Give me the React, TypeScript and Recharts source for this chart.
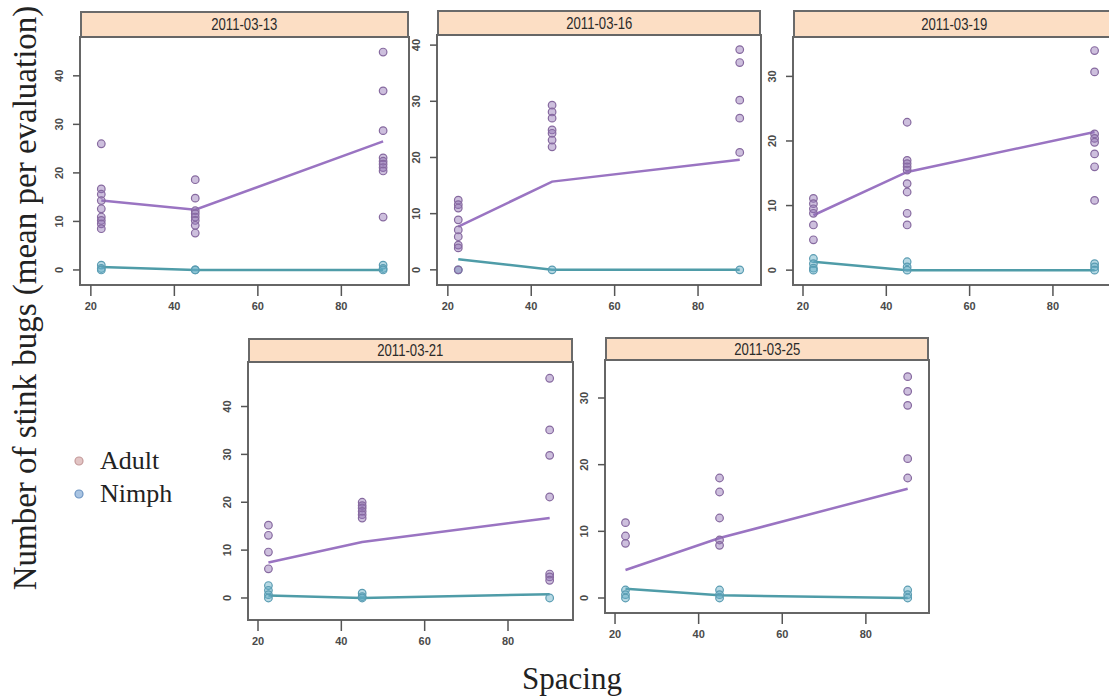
import React from 'react';
import { ComposedChart, Scatter, Line, XAxis, YAxis, ReferenceArea } from 'recharts';

// spacing levels (x) used in every panel
const spacing = [22.5, 45, 90];
const xTicks = [20, 40, 60, 80];

// observed counts, one sub-array per spacing level
const adult0313 = [
  [26, 16.7, 15.6, 14.3, 12.6, 10.9, 10.2, 9.5, 8.5],
  [18.6, 14.8, 12.2, 11.6, 10.9, 10.2, 9.2, 7.6],
  [44.9, 36.9, 28.7, 23.1, 22.4, 21.8, 21.1, 20.4, 10.9],
];
const nymph0313 = [[1, 0.3, 0], [0, 0], [1, 0.3, 0]];
const adultLine0313 = [14.3, 12.4, 26.5];
const nymphLine0313 = [0.6, 0, 0];

const adult0316 = [
  [12.4, 11.6, 11, 8.9, 7.1, 5.9, 4.4, 3.9, 0],
  [29.3, 28.1, 27, 24.9, 24.3, 23.1, 21.9],
  [39.2, 36.9, 30.2, 27, 20.9],
];
const nymph0316 = [[0], [0], [0]];
const adultLine0316 = [7.7, 15.7, 19.6];
const nymphLine0316 = [1.9, 0, 0];

const adult0319 = [
  [11.1, 10.3, 9.5, 8.8, 7, 4.7],
  [22.9, 17, 16.5, 16, 15.5, 13.4, 12.1, 8.8, 7],
  [34, 30.7, 21.1, 20.4, 19.8, 18, 16, 10.8],
];
const nymph0319 = [[1.8, 1, 0.3, 0], [1.3, 0.5, 0], [1, 0.5, 0]];
const adultLine0319 = [8.5, 15.2, 21.4];
const nymphLine0319 = [1.3, 0, 0];

const adult0321 = [
  [15.2, 13.1, 9.6, 6.1],
  [20, 19.3, 18.8, 18.1, 17.4, 16.7],
  [45.9, 35.1, 29.8, 21.1, 5, 4.4, 3.7],
];
const nymph0321 = [[2.6, 1.6, 0.7, 0], [1, 0.3, 0], [0]];
const adultLine0321 = [7.4, 11.7, 16.7];
const nymphLine0321 = [0.5, 0, 0.8];

const adult0325 = [
  [11.3, 9.3, 8.2],
  [18, 15.9, 12, 8.7, 7.9],
  [33.2, 31, 28.9, 20.9, 18],
];
const nymph0325 = [[1.2, 0.5, 0], [1.2, 0.5, 0], [1.2, 0.5, 0]];
const adultLine0325 = [4.2, 9, 16.4];
const nymphLine0325 = [1.4, 0.4, 0];

const toPoints = (groups: number[][]) =>
  groups.flatMap((vals, i) => vals.map((y) => ({ x: spacing[i], y })));
const toLine = (vals: number[]) => vals.map((y, i) => ({ x: spacing[i], y }));

const ADULT_FILL = 'rgba(145,112,180,0.45)';
const ADULT_STROKE = '#86699f';
const NYMPH_FILL = 'rgba(95,170,195,0.45)';
const NYMPH_STROKE = '#5a9cb2';
const ADULT_LINE = '#9a74c2';
const NYMPH_LINE = '#4f9ca8';
const TICK_FONT = 'Liberation Sans Narrow, Liberation Sans, Arial';

interface Box {
  left: number;
  top: number;
  width: number;
  height: number;
}

interface PanelProps {
  title: string;
  box: Box;
  stripTop: number;
  xDomain: [number, number];
  yDomain: [number, number];
  yTicks: number[];
  adult: number[][];
  nymph: number[][];
  adultLine: number[];
  nymphLine: number[];
}

const YTick = (props: any) => {
  const { x, y, payload } = props;
  return (
    <text
      x={x - 4}
      y={y}
      transform={`rotate(-90 ${x - 4} ${y})`}
      textAnchor="middle"
      fontSize={11}
      fontWeight={600}
      fill="#4a4a4a"
      fontFamily={TICK_FONT}
    >
      {payload.value}
    </text>
  );
};

const dot = (fill: string, stroke: string) => (p: any) =>
  <circle cx={p.cx} cy={p.cy} r={3.8} fill={fill} stroke={stroke} strokeWidth={1.2} />;

function Panel({ title, box, stripTop, xDomain, yDomain, yTicks, adult, nymph, adultLine, nymphLine }: PanelProps) {
  const axisW = 40;
  const pad = 2;
  return (
    <>
      <div
        style={{
          position: 'absolute',
          left: box.left,
          top: stripTop,
          width: box.width,
          height: box.top - stripTop + 1,
          boxSizing: 'border-box',
          border: '2px solid #6a6a6a',
          background: '#fcdec4',
          textAlign: 'center',
          fontFamily: TICK_FONT,
          fontSize: 16,
          color: '#2a2a2a',
          lineHeight: `${box.top - stripTop - 2}px`,
        }}
      >
        <span style={{ display: 'inline-block', transform: 'scaleX(0.82)' }}>{title}</span>
      </div>
      <div style={{ position: 'absolute', left: box.left - axisW, top: box.top - pad }}>
        <ComposedChart
          width={box.width + axisW + pad}
          height={box.height + 40 + pad}
          margin={{ top: pad, right: pad, left: 0, bottom: 0 }}
        >
          <XAxis
            type="number"
            dataKey="x"
            domain={xDomain}
            ticks={xTicks}
            allowDataOverflow
            axisLine={false}
            tickLine={{ stroke: '#555', strokeWidth: 1.5 }}
            tickSize={11}
            tickMargin={6}
            height={40}
            tick={{ fontSize: 11, fill: '#4a4a4a', fontWeight: 600, fontFamily: TICK_FONT }}
          />
          <YAxis
            type="number"
            dataKey="y"
            domain={yDomain}
            ticks={yTicks}
            allowDataOverflow
            axisLine={false}
            tickLine={{ stroke: '#555', strokeWidth: 1.5 }}
            tickSize={7}
            tickMargin={6}
            width={axisW}
            tick={<YTick />}
          />
          <ReferenceArea
            x1={xDomain[0]}
            x2={xDomain[1]}
            y1={yDomain[0]}
            y2={yDomain[1]}
            fill="none"
            stroke="#666"
            strokeWidth={2}
            fillOpacity={0}
            ifOverflow="visible"
          />
          <Scatter data={toPoints(nymph)} shape={dot(NYMPH_FILL, NYMPH_STROKE)} isAnimationActive={false} />
          <Scatter data={toPoints(adult)} shape={dot(ADULT_FILL, ADULT_STROKE)} isAnimationActive={false} />
          <Line
            data={toLine(adultLine)}
            dataKey="y"
            type="linear"
            stroke={ADULT_LINE}
            strokeWidth={2.5}
            dot={false}
            isAnimationActive={false}
          />
          <Line
            data={toLine(nymphLine)}
            dataKey="y"
            type="linear"
            stroke={NYMPH_LINE}
            strokeWidth={2.5}
            dot={false}
            isAnimationActive={false}
          />
        </ComposedChart>
      </div>
    </>
  );
}

export default function App() {
  const serif = 'Liberation Serif, Times New Roman, serif';
  return (
    <div style={{ position: 'absolute', left: 0, top: 0, width: 1109, height: 699, background: '#fff', overflow: 'hidden' }}>
      <svg width={1109} height={699} style={{ position: 'absolute', left: 0, top: 0 }}>
        <text transform="translate(36,298) rotate(-90)" textAnchor="middle" fontSize={33} fontFamily={serif} fill="#222">
          Number of stink bugs (mean per evaluation)
        </text>
        <text x={572} y={689} textAnchor="middle" fontSize={31} fontFamily={serif} fill="#222">
          Spacing
        </text>
        <circle cx={79} cy={461} r={4} fill="#e2c4c4" stroke="#c49a9a" strokeWidth={1.2} />
        <text x={100} y={469} fontSize={26} fontFamily={serif} fill="#222">Adult</text>
        <circle cx={79} cy={494} r={4} fill="#a9c4e2" stroke="#6d94c2" strokeWidth={1.2} />
        <text x={100} y={502} fontSize={26} fontFamily={serif} fill="#222">Nimph</text>
      </svg>
      <Panel
        title="2011-03-13"
        box={{ left: 80, top: 37, width: 329, height: 248 }}
        stripTop={11}
        xDomain={[17.4, 96.2]}
        yDomain={[-3.1, 48]}
        yTicks={[0, 10, 20, 30, 40]}
        adult={adult0313}
        nymph={nymph0313}
        adultLine={adultLine0313}
        nymphLine={nymphLine0313}
      />
      <Panel
        title="2011-03-16"
        box={{ left: 437, top: 35, width: 324, height: 250 }}
        stripTop={10}
        xDomain={[17.4, 95.1]}
        yDomain={[-2.7, 41.8]}
        yTicks={[0, 10, 20, 30, 40]}
        adult={adult0316}
        nymph={nymph0316}
        adultLine={adultLine0316}
        nymphLine={nymphLine0316}
      />
      <Panel
        title="2011-03-19"
        box={{ left: 793, top: 37, width: 322, height: 248 }}
        stripTop={10}
        xDomain={[17.6, 94.9]}
        yDomain={[-2.3, 36.1]}
        yTicks={[0, 10, 20, 30]}
        adult={adult0319}
        nymph={nymph0319}
        adultLine={adultLine0319}
        nymphLine={nymphLine0319}
      />
      <Panel
        title="2011-03-21"
        box={{ left: 248, top: 362, width: 325, height: 258 }}
        stripTop={338}
        xDomain={[17.6, 95.6]}
        yDomain={[-4.6, 49.3]}
        yTicks={[0, 10, 20, 30, 40]}
        adult={adult0321}
        nymph={nymph0321}
        adultLine={adultLine0321}
        nymphLine={nymphLine0321}
      />
      <Panel
        title="2011-03-25"
        box={{ left: 605, top: 360, width: 324, height: 253 }}
        stripTop={337}
        xDomain={[17.6, 95.1]}
        yDomain={[-2.25, 35.7]}
        yTicks={[0, 10, 20, 30]}
        adult={adult0325}
        nymph={nymph0325}
        adultLine={adultLine0325}
        nymphLine={nymphLine0325}
      />
    </div>
  );
}
